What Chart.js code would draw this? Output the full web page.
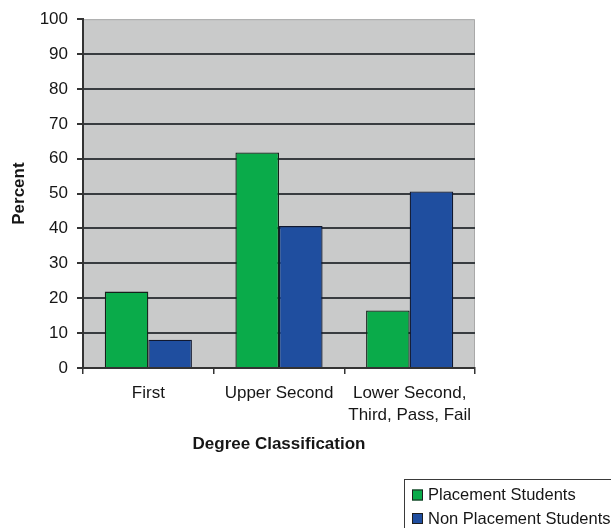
<!DOCTYPE html>
<html>
<head>
<meta charset="utf-8">
<style>
  html, body { margin: 0; padding: 0; background: #ffffff; }
  #wrap { width: 611px; height: 528px; position: relative; }
</style>
<script src="https://cdn.jsdelivr.net/npm/chart.js@4"></script>
</head>
<body>
<div id="wrap"><canvas id="chart" width="611" height="528"></canvas></div>
<script>
// Degree outcomes by placement status (percent of students)
const categories = ["First", "Upper Second", ["Lower Second,", "Third, Pass, Fail"]];
const placementStudents = [21.9, 61.8, 16.5];
const nonPlacementStudents = [8.1, 40.7, 50.6];
const seriesNames = ["Placement Students", "Non Placement Students"];
const seriesColors = ["#0aab4a", "#1f4e9f"];
const yTicks = { min: 0, max: 100, step: 10 };

const FONT = '"Liberation Sans", Arial, Helvetica, sans-serif';
const TEXT = '#161616';

// Grey plot panel with a light outline on the top and right edges
const panelPlugin = {
  id: 'panel',
  beforeDraw(chart) {
    const { ctx, chartArea: a } = chart;
    ctx.save();
    ctx.fillStyle = '#c9caca';
    ctx.fillRect(a.left, a.top, a.right - a.left, a.bottom - a.top);
    ctx.strokeStyle = '#a9a9a9';
    ctx.lineWidth = 1;
    ctx.beginPath();
    ctx.moveTo(a.left, a.top + 0.5);
    ctx.lineTo(a.right - 0.5, a.top + 0.5);
    ctx.lineTo(a.right - 0.5, a.bottom);
    ctx.stroke();
    ctx.restore();
  }
};

// Boxed legend in the lower right corner
const boxLegendPlugin = {
  id: 'boxLegend',
  afterDraw(chart) {
    const { ctx } = chart;
    const x0 = 404, y0 = 479, rowH = 23.5;
    ctx.save();
    ctx.strokeStyle = '#3a3a3a';
    ctx.lineWidth = 1;
    ctx.strokeRect(x0 + 0.5, y0 + 0.5, 260, 80);
    ctx.font = '16.5px ' + FONT;
    ctx.textBaseline = 'middle';
    ctx.textAlign = 'left';
    chart.data.datasets.forEach((ds, i) => {
      const cy = y0 + 16 + i * rowH;
      ctx.fillStyle = ds.backgroundColor;
      ctx.fillRect(x0 + 8, cy - 5.5, 11, 11);
      ctx.strokeStyle = '#1e1e1e';
      ctx.strokeRect(x0 + 8.5, cy - 5, 10, 10);
      ctx.fillStyle = TEXT;
      ctx.fillText(ds.label, x0 + 24, cy + 0.5);
    });
    ctx.restore();
  }
};

new Chart(document.getElementById('chart'), {
  type: 'bar',
  data: {
    labels: categories,
    datasets: [
      {
        label: seriesNames[0],
        data: placementStudents,
        backgroundColor: seriesColors[0],
        borderColor: '#14201a',
        borderWidth: 1.3,
        barPercentage: 1,
        categoryPercentage: 0.667
      },
      {
        label: seriesNames[1],
        data: nonPlacementStudents,
        backgroundColor: seriesColors[1],
        borderColor: '#101830',
        borderWidth: 1.3,
        barPercentage: 1,
        categoryPercentage: 0.667
      }
    ]
  },
  options: {
    responsive: false,
    animation: false,
    devicePixelRatio: 1,
    layout: { padding: { top: 16, right: 136, left: 0, bottom: 0 } },
    plugins: {
      legend: { display: false },
      tooltip: { enabled: false }
    },
    scales: {
      x: {
        afterFit(scale) { scale.height = 160; },
        grid: {
          drawOnChartArea: false,
          drawTicks: true,
          tickLength: 6,
          tickColor: '#333333',
          lineWidth: 1.5
        },
        border: { display: true, color: '#333333', width: 2 },
        ticks: {
          padding: 8,
          maxRotation: 0,
          autoSkip: false,
          color: TEXT,
          font: { family: FONT, size: 17, lineHeight: 1.3 }
        },
        title: {
          display: true,
          text: 'Degree Classification',
          color: TEXT,
          font: { family: FONT, size: 17, weight: 'bold', lineHeight: 1.2 },
          padding: { top: 0, bottom: 73 }
        }
      },
      y: {
        min: yTicks.min,
        max: yTicks.max,
        afterFit(scale) { scale.width = 83; },
        grid: {
          color: (c) => (c.tick && c.tick.value === yTicks.max) ? 'rgba(0,0,0,0)' : '#383c40',
          lineWidth: 2,
          drawTicks: true,
          tickLength: 6,
          tickColor: '#333333'
        },
        border: { display: true, color: '#333333', width: 2 },
        ticks: {
          stepSize: yTicks.step,
          padding: 9,
          color: TEXT,
          font: { family: FONT, size: 17 }
        },
        title: {
          display: true,
          text: 'Percent',
          color: TEXT,
          font: { family: FONT, size: 17, weight: 'bold', lineHeight: 1.2 },
          padding: { top: 9, bottom: 0 }
        }
      }
    }
  },
  plugins: [panelPlugin, boxLegendPlugin]
});
</script>
</body>
</html>
